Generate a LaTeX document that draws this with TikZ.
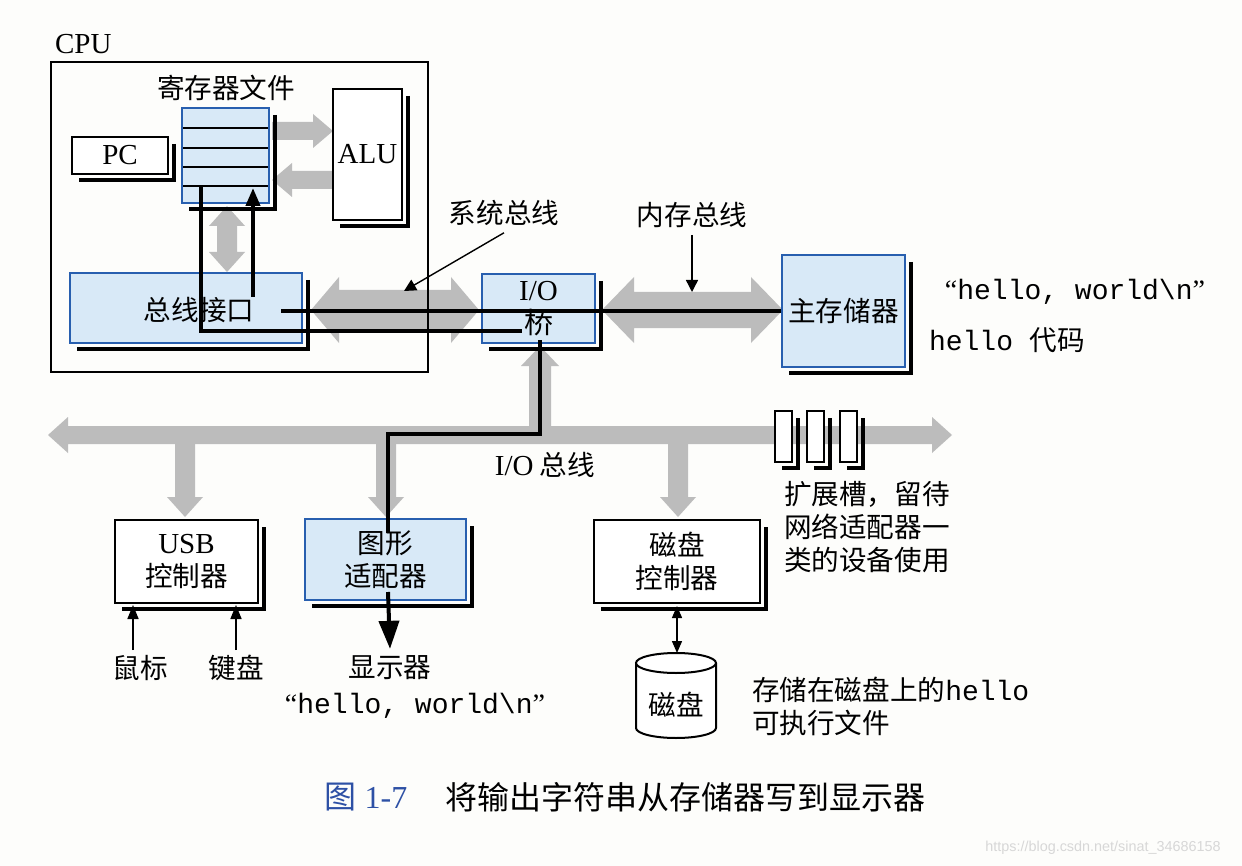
\documentclass[tikz,border=0pt]{standalone}
\usepackage{fontspec}
\setmainfont{Liberation Serif}
\setmonofont{Liberation Mono}
\newfontfamily\cjk{Noto Sans CJK SC}
\newfontfamily\wmfont{Liberation Sans}
\usetikzlibrary{calc,arrows.meta}
\definecolor{bgc}{RGB}{253,253,251}
\definecolor{lblue}{RGB}{216,233,247}
\definecolor{bblue}{RGB}{40,95,175}
\definecolor{busgray}{RGB}{188,188,188}
\definecolor{capblue}{RGB}{45,80,165}
\definecolor{wmgray}{RGB}{215,215,215}
\newcommand\zhf{\cjk\fontsize{13.8}{16.5}\selectfont}
\newcommand\enf{\rmfamily\fontsize{14.5}{16.5}\selectfont}
\newcommand\monof{\ttfamily\fontsize{14}{16}\selectfont}
% fat double arrow between two named coordinates: #3 body half width, #4 head half width, #5 head length
\newcommand\fatD[5]{%
  \path ($(#1)!#5!(#2)$) coordinate (fa1) ($(#2)!#5!(#1)$) coordinate (fb1);
  \fill[busgray] (#1) -- ($(fa1)!#4!90:(#2)$) -- ($(fa1)!#3!90:(#2)$) -- ($(fb1)!#3!-90:(#1)$) -- ($(fb1)!#4!-90:(#1)$) -- (#2) -- ($(fb1)!#4!90:(#1)$) -- ($(fb1)!#3!90:(#1)$) -- ($(fa1)!#3!-90:(#2)$) -- ($(fa1)!#4!-90:(#2)$) -- cycle;}
% fat single arrow, head at #2
\newcommand\fatS[5]{%
  \path ($(#2)!#5!(#1)$) coordinate (fb1);
  \fill[busgray] ($(#1)!#3!90:(#2)$) -- ($(fb1)!#3!-90:(#1)$) -- ($(fb1)!#4!-90:(#1)$) -- (#2) -- ($(fb1)!#4!90:(#1)$) -- ($(fb1)!#3!90:(#1)$) -- ($(#1)!#3!-90:(#2)$) -- cycle;}
\newcommand\shadowof[1]{\draw[shadowline] ($(#1.north east)+(5,8)$) -- ($(#1.south east)+(5,5)$) -- ($(#1.south west)+(8,5)$);}
\begin{document}
\begin{tikzpicture}[x=0.5pt,y=-0.5pt,
  box/.style={draw=black, line width=1pt, fill=white, inner sep=0pt, align=center},
  bbox/.style={draw=bblue, line width=1pt, fill=lblue, inner sep=0pt, align=center},
  shadowline/.style={line width=1.6pt, black},
  dline/.style={line width=2pt, black},
  tarrow/.style={line width=0.7pt, -{Triangle[width=6pt,length=6pt]}},
]
\fill[bgc] (0,0) rectangle (1242,866);
\useasboundingbox (0,0) rectangle (1242,866);

% ---------- gray fat arrows (buses) ----------
\coordinate (ra1) at (272,131); \coordinate (ra2) at (333,131);
\fatS{ra1}{ra2}{4.5pt}{8.5pt}{10pt}
\coordinate (ar1) at (333,180); \coordinate (ar2) at (272,180);
\fatS{ar1}{ar2}{4.5pt}{8.5pt}{10pt}
\coordinate (rb1) at (227,206); \coordinate (rb2) at (227,272);
\fatD{rb1}{rb2}{5pt}{9pt}{10pt}
\coordinate (sb1) at (311,310); \coordinate (sb2) at (479,310);
\fatD{sb1}{sb2}{10pt}{16.5pt}{14pt}
\coordinate (mb1) at (602,310); \coordinate (mb2) at (783,310);
\fatD{mb1}{mb2}{9pt}{16.5pt}{16pt}
\coordinate (io1) at (48,435); \coordinate (io2) at (952,435);
\fatD{io1}{io2}{4.5pt}{9pt}{10pt}
\coordinate (iob) at (540,440); \coordinate (iobr) at (540,346);
\fatS{iob}{iobr}{5.5pt}{9.5pt}{10pt}
\coordinate (iu1) at (185,440); \coordinate (iu2) at (185,517);
\fatS{iu1}{iu2}{5pt}{9pt}{10pt}
\coordinate (ig1) at (386,440); \coordinate (ig2) at (386,517);
\fatS{ig1}{ig2}{5pt}{9pt}{10pt}
\coordinate (id1) at (678,440); \coordinate (id2) at (678,517);
\fatS{id1}{id2}{5pt}{9pt}{10pt}

% ---------- CPU ----------
\node[draw=black, line width=1.3pt, minimum width=188.5pt, minimum height=155pt, inner sep=0pt] (cpu) at (239.5,217) {};
\node[anchor=west, font=\enf] (cpulbl) at (48,44) {CPU};

\node[bbox, minimum width=43.5pt, minimum height=47.5pt] (regs) at (225.5,155.5) {};
\foreach \yy in {128,148,167,186} \draw[line width=0.9pt] (183,\yy) -- (268,\yy);
\shadowof{regs}
\node[font=\zhf] (regtitle) at (226,88) {寄存器文件};

\node[box, minimum width=48pt, minimum height=18.5pt, font=\enf] (pc) at (120,155.5) {PC};
\shadowof{pc}
\node[box, minimum width=34.5pt, minimum height=65.5pt, font=\enf] (alu) at (367.5,154.5) {ALU};
\shadowof{alu}
\node[bbox, minimum width=116pt, minimum height=35pt] (bi) at (186,308) {};
\shadowof{bi}
\node[font=\zhf] (bitext) at (199,310) {总线接口};

% ---------- bridge & memory ----------
\node[bbox, minimum width=56.5pt, minimum height=34.5pt, font=\enf] (bridge) at (538.5,308.5) {I/O\\{\cjk 桥}};
\shadowof{bridge}
\node[bbox, minimum width=61.5pt, minimum height=56pt, font=\zhf] (mem) at (843.5,311) {主存储器};
\shadowof{mem}

\node[font=\zhf] (sysl) at (504,213) {系统总线};
\coordinate (sysp) at (404,291);
\draw[tarrow] (sysl.south) -- (sysp);
\node[font=\zhf] (meml) at (692,215) {内存总线};
\coordinate (memp) at (692,292);
\draw[tarrow] (meml.south) -- (memp);

\node[font=\monof] (hw1) at (1075,292) {{\rmfamily “}hello, world\textbackslash n{\rmfamily ”}};
\node[anchor=west, font=\zhf] (hcode) at (922,340) {{\monof hello\ }代码};

% ---------- I/O bus devices ----------
\node[font=\zhf] (iol) at (545,465) {{\enf I/O} 总线};

\node[box, minimum width=71.5pt, minimum height=41.5pt, font=\zhf] (usb) at (186.5,561.5) {{\enf USB}\\控制器};
\shadowof{usb}
\node[bbox, minimum width=80.5pt, minimum height=40.5pt, font=\zhf] (gfx) at (385.5,559.5) {图形\\适配器};
\shadowof{gfx}
\node[box, minimum width=83pt, minimum height=41.5pt, font=\zhf] (dc) at (677,561.5) {磁盘\\控制器};
\shadowof{dc}

\node[box, minimum width=8.5pt, minimum height=25.5pt] (s1) at (783.5,436.5) {};
\shadowof{s1}
\node[box, minimum width=8.5pt, minimum height=25.5pt] (s2) at (815.5,436.5) {};
\shadowof{s2}
\node[box, minimum width=8.5pt, minimum height=25.5pt] (s3) at (848.5,436.5) {};
\shadowof{s3}
\node[anchor=west, font=\zhf, align=left] (slottxt) at (777,527) {扩展槽，留待\\网络适配器一\\类的设备使用};

% mouse / keyboard
\node[font=\zhf] (mouse) at (140,668) {鼠标};
\node[font=\zhf] (kbd) at (236,668) {键盘};
\coordinate (mo1) at (133,650); \coordinate (mo2) at (133,605);
\coordinate (kb1) at (236,650); \coordinate (kb2) at (236,605);
\draw[line width=0.8pt, -{Triangle[width=5.5pt,length=7pt]}] (mo1) -- (mo2);
\draw[line width=0.8pt, -{Triangle[width=5.5pt,length=7pt]}] (kb1) -- (kb2);

% display
\node[font=\zhf] (disp) at (390,668) {显示器};
\node[font=\monof] (hw2) at (415,706) {{\rmfamily “}hello, world\textbackslash n{\rmfamily ”}};

% disk
\coordinate (disktop) at (676,653);
\fill[white] (636,663) -- (636,728) arc[start angle=180,end angle=360,x radius=20pt,y radius=5pt] -- (716,663) -- cycle;
\draw[line width=1pt] (636,663) -- (636,728) arc[start angle=180,end angle=360,x radius=20pt,y radius=5pt] -- (716,663);
\draw[line width=1pt, fill=white] (676,663) ellipse [x radius=20pt, y radius=5pt];
\node[font=\zhf] (disk) at (676,705) {磁盘};
\draw[line width=0.7pt, {Triangle[width=5pt,length=6pt]}-{Triangle[width=5pt,length=6pt]}] (dc.south |- 0,606) -- (dc.south |- disktop);
\node[anchor=west, font=\zhf, align=left] (stored) at (745,706) {存储在磁盘上的{\monof hello}\\可执行文件};

% ---------- black data path ----------
\coordinate (bi1) at (281,311);
\draw[dline] (mem.west) -- (bi1);
\coordinate (r1) at (201,187); \coordinate (b1) at (522,331);
\draw[dline] (r1) -- (r1 |- b1) -- (b1);
\coordinate (b2) at (253,297); \coordinate (r2) at (253,188);
\draw[dline, -{Triangle[width=7pt,length=9pt]}] (b2) -- (r2);
\coordinate (br1) at (540,340); \coordinate (busmid) at (460,434); \coordinate (g1) at (388,533);
\draw[dline] (br1) |- (busmid) -| (g1);
\coordinate (g2) at (388,592);
\draw[dline, -{Triangle[width=10pt,length=14pt]}] (g2) -- (disp.north);

% ---------- caption ----------
\node[font=\fontsize{16}{18}\selectfont, text=capblue] (fig) at (366,797) {{\cjk 图} 1-7};
\node[anchor=west, font=\cjk\fontsize{16}{18}\selectfont] (captxt) at (438,797) {将输出字符串从存储器写到显示器};
\node[font=\wmfont\fontsize{7.2}{8}\selectfont, text=wmgray] (wm) at (1103,848) {https://blog.csdn.net/sinat\_34686158};
\end{tikzpicture}
\end{document}
